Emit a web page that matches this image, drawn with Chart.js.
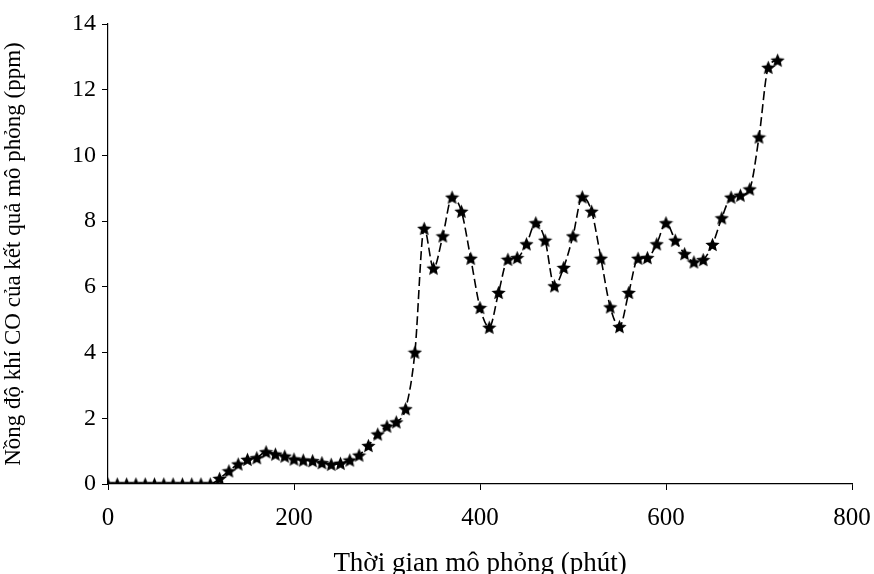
<!DOCTYPE html>
<html>
<head>
<meta charset="utf-8">
<script src="https://cdn.jsdelivr.net/npm/chart.js@4"></script>
<style>
html,body{margin:0;padding:0;background:#fff;}
#wrap{width:874px;height:574px;}
</style>
</head>
<body>
<div id="wrap"><canvas id="c" width="874" height="574"></canvas></div>
<script>
const times = [0,10,20,30,40,50,60,70,80,90,100,110,120,130,140,150,160,170,180,190,200,210,220,230,240,250,260,270,280,290,300,310,320,330,340,350,360,370,380,390,400,410,420,430,440,450,460,470,480,490,500,510,520,530,540,550,560,570,580,590,600,610,620,630,640,650,660,670,680,690,700,710,720];
const coValues = [0,0,0,0,0,0,0,0,0,0,0,0,0.17,0.40,0.61,0.75,0.80,0.98,0.91,0.85,0.76,0.73,0.71,0.65,0.60,0.63,0.73,0.88,1.17,1.52,1.76,1.89,2.29,4.01,7.78,6.57,7.55,8.73,8.30,6.87,5.37,4.77,5.83,6.84,6.89,7.31,7.95,7.42,6.03,6.59,7.55,8.74,8.30,6.87,5.39,4.79,5.83,6.87,6.89,7.31,7.95,7.42,7.01,6.76,6.83,7.29,8.10,8.73,8.79,8.98,10.56,12.68,12.90];
const xTicks = [0,200,400,600,800];
const yTicks = [0,2,4,6,8,10,12,14];
const xTitle = 'Thời gian mô phỏng (phút)';
const yTitle = 'Nồng độ khí CO của kết quả mô phỏng (ppm)';

function makeStar(size){
  const c = document.createElement('canvas');
  c.width = size; c.height = size;
  const g = c.getContext('2d');
  const cx = size/2, cy = size/2 + size*0.05, R = size/2, r = R*0.46;
  g.beginPath();
  for(let i=0;i<10;i++){
    const rad = (i%2===0)?R:r;
    const a = -Math.PI/2 + i*Math.PI/5;
    const px = cx + rad*Math.cos(a), py = cy + rad*Math.sin(a);
    if(i===0) g.moveTo(px,py); else g.lineTo(px,py);
  }
  g.closePath();
  g.fillStyle = '#000';
  g.fill();
  return c;
}
const star = makeStar(15);

const fam = '"Liberation Serif","Times New Roman",serif';
const tickFontX = {family:fam, size:25};
const tickFontY = {family:fam, size:24};

new Chart(document.getElementById('c'), {
  type:'line',
  data:{
    datasets:[{
      data: times.map((t,i)=>({x:t,y:coValues[i]})),
      borderColor:'#000',
      borderWidth:1.6,
      borderDash:[9,4],
      tension:0.4,
      cubicInterpolationMode:'monotone',
      pointStyle: star,
      pointRadius:7,
      fill:false
    }]
  },
  options:{
    responsive:false,
    animation:false,
    events:[],
    layout:{padding:{left:0,right:22,top:24,bottom:0}},
    plugins:{legend:{display:false},tooltip:{enabled:false}},
    scales:{
      x:{
        type:'linear', min:0, max:800,
        afterBuildTicks: s => { s.ticks = xTicks.map(v=>({value:v})); },
        afterFit: s => { s.height = 90; s.paddingRight = 0; s.paddingLeft = 0; },
        border:{display:true,color:'#000',width:1.2},
        grid:{display:true,drawOnChartArea:false,drawTicks:true,tickLength:6,color:'#000',tickColor:'#000'},
        ticks:{color:'#000',font:tickFontX,padding:13,maxRotation:0},
        title:{display:true,text:xTitle,color:'#000',font:{family:fam,size:27},padding:{top:0,bottom:-6}}
      },
      y:{
        type:'linear', min:0, max:14,
        afterBuildTicks: s => { s.ticks = yTicks.map(v=>({value:v})); },
        afterFit: s => { s.width = 108; s.paddingTop = 0; s.paddingBottom = 0; },
        border:{display:true,color:'#000',width:1.2},
        grid:{display:true,drawOnChartArea:false,drawTicks:true,tickLength:6,color:'#000',tickColor:'#000'},
        ticks:{color:'#000',font:tickFontY,padding:6},
        title:{display:true,text:yTitle,color:'#000',font:{family:fam,size:23},padding:{top:0,bottom:8}}
      }
    }
  }
});
</script>
</body>
</html>
